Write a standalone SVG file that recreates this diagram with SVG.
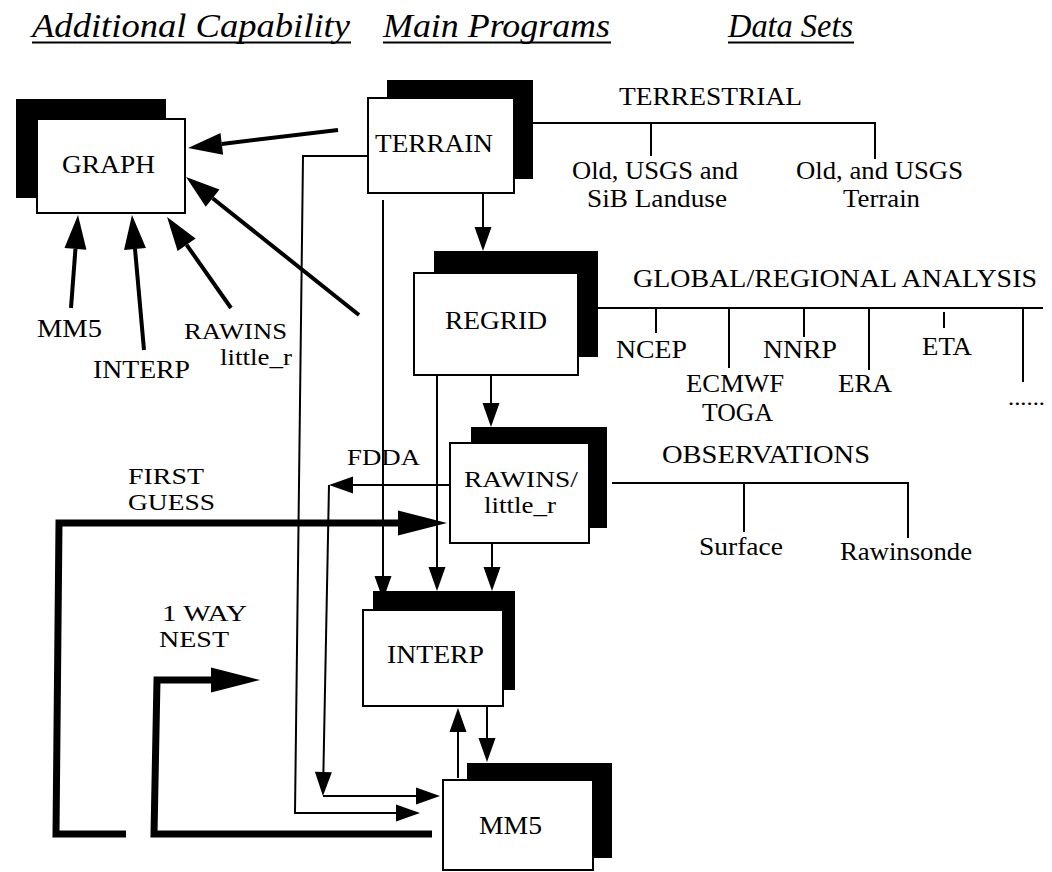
<svg xmlns="http://www.w3.org/2000/svg" width="1052" height="872" viewBox="0 0 1052 872" font-family="'Liberation Serif', 'DejaVu Serif', 'Times New Roman', serif">
<style>
  text { font-family: "Liberation Serif", "DejaVu Serif", "Times New Roman", serif; font-size: 26px; fill: #000; }
  .hdr { font-style: italic; font-size: 34px; }
  .sm { font-size: 23px; }
  .c { text-anchor: middle; }
  .shadow { fill: #000; }
  .box { fill: #fff; stroke: #000; stroke-width: 2; }
  .thin { fill: none; stroke: #000; stroke-width: 2; }
  .med { fill: none; stroke: #000; stroke-width: 4; }
  .thick { fill: none; stroke: #000; stroke-width: 7; stroke-linejoin: miter; }
</style>
<defs>
  <marker id="aThin" markerUnits="userSpaceOnUse" markerWidth="26" markerHeight="20" refX="0" refY="8.5" orient="auto" overflow="visible">
    <path d="M0,0 L24,8.5 L0,17 z" fill="#000"/>
  </marker>
  <marker id="aMed" markerUnits="userSpaceOnUse" markerWidth="36" markerHeight="24" refX="0" refY="11" orient="auto" overflow="visible">
    <path d="M0,0 L34,11 L0,22 z" fill="#000"/>
  </marker>
  <marker id="aThick" markerUnits="userSpaceOnUse" markerWidth="50" markerHeight="26" refX="0" refY="12.5" orient="auto" overflow="visible">
    <path d="M0,0 L49,12.5 L0,25 z" fill="#000"/>
  </marker>
</defs>
<rect width="1052" height="872" fill="#fff"/>

<g id="headers">
  <text class="hdr" x="32" y="37" textLength="318" lengthAdjust="spacingAndGlyphs">Additional Capability</text>
  <line x1="32" y1="42.5" x2="351" y2="42.5" stroke="#000" stroke-width="2"/>
  <text class="hdr" x="383" y="37" textLength="227" lengthAdjust="spacingAndGlyphs">Main Programs</text>
  <line x1="383" y1="42.5" x2="611" y2="42.5" stroke="#000" stroke-width="2"/>
  <text class="hdr" x="728" y="37" textLength="125" lengthAdjust="spacingAndGlyphs">Data Sets</text>
  <line x1="728" y1="42.5" x2="854" y2="42.5" stroke="#000" stroke-width="2"/>
</g>

<g id="connectors">
  <line class="med" x1="338" y1="130" x2="221.8" y2="143.95" marker-end="url(#aMed)"/>
  <line class="med" x1="359" y1="315" x2="212.6" y2="198.2" marker-end="url(#aMed)"/>
  <line class="med" x1="71" y1="308" x2="75.45" y2="248.9" marker-end="url(#aMed)"/>
  <line class="med" x1="144" y1="350" x2="135" y2="248.9" marker-end="url(#aMed)"/>
  <line class="med" x1="231" y1="308" x2="186.6" y2="244.8" marker-end="url(#aMed)"/>

  <line class="thin" x1="483" y1="193" x2="483" y2="227" marker-end="url(#aThin)"/>
  <line class="thin" x1="491" y1="375" x2="491" y2="403" marker-end="url(#aThin)"/>
  <line class="thin" x1="492" y1="543" x2="492" y2="567" marker-end="url(#aThin)"/>
  <line class="thin" x1="437" y1="375" x2="437" y2="567" marker-end="url(#aThin)"/>
  <line class="thin" x1="383" y1="200" x2="383" y2="576" marker-end="url(#aThin)"/>
  <line class="thin" x1="487" y1="706" x2="487" y2="738" marker-end="url(#aThin)"/>
  <line class="thin" x1="458" y1="778" x2="458" y2="732" marker-end="url(#aThin)"/>

  <line class="thin" x1="450" y1="485" x2="353" y2="485" marker-end="url(#aThin)"/>
  <line class="thin" x1="329" y1="485" x2="323.4" y2="772" marker-end="url(#aThin)"/>
  <line class="thin" x1="323" y1="796" x2="416" y2="796" marker-end="url(#aThin)"/>

  <polyline class="thin" points="368,156 303,156 295,813 396,813" marker-end="url(#aThin)"/>

  <polyline class="thick" points="126,834 56,834 59,523 398,523" marker-end="url(#aThick)"/>
  <polyline class="thick" points="432,834 154,834 157,680 211,680" marker-end="url(#aThick)"/>

  <path class="thin" d="M533,123 H875 V159 M651,123 V156"/>
  <path class="thin" d="M598,308 H1043 M656,308 V333 M729,308 V368 M804,308 V337 M869,308 V370 M944,312 V328 M1023,308 V382"/>
  <path class="thin" d="M612,483 H908 V538 M744,483 V532"/>
</g>

<g id="node-graph">
  <rect class="shadow" x="16" y="99" width="150" height="99"/>
  <rect class="box" x="37" y="119" width="148" height="94"/>
  <text class="c" x="108.5" y="173" textLength="93" lengthAdjust="spacingAndGlyphs">GRAPH</text>
</g>
<g id="node-terrain">
  <rect class="shadow" x="387" y="80" width="146" height="99"/>
  <rect class="box" x="368" y="98" width="146" height="95"/>
  <text class="c" x="434" y="152" textLength="118" lengthAdjust="spacingAndGlyphs">TERRAIN</text>
</g>
<g id="node-regrid">
  <rect class="shadow" x="434" y="251" width="164" height="106"/>
  <rect class="box" x="414" y="273" width="164" height="102"/>
  <text class="c" x="496" y="329" textLength="102" lengthAdjust="spacingAndGlyphs">REGRID</text>
</g>
<g id="node-rawins">
  <rect class="shadow" x="471" y="427" width="136" height="101"/>
  <rect class="box" x="450" y="443" width="139" height="100"/>
  <text class="c sm" x="521" y="487" textLength="114" lengthAdjust="spacingAndGlyphs">RAWINS/</text>
  <text class="c sm" x="520" y="513" textLength="72" lengthAdjust="spacingAndGlyphs">little_r</text>
</g>
<g id="node-interp">
  <rect class="shadow" x="373" y="591" width="142" height="99"/>
  <rect class="box" x="363" y="610" width="140" height="96"/>
  <text class="c" x="435.5" y="663" textLength="97" lengthAdjust="spacingAndGlyphs">INTERP</text>
</g>
<g id="node-mm5">
  <rect class="shadow" x="467" y="763" width="145" height="95"/>
  <rect class="box" x="443" y="780" width="150" height="90"/>
  <text class="c" x="510.5" y="834" textLength="63" lengthAdjust="spacingAndGlyphs">MM5</text>
</g>

<g id="labels-graph-inputs">
  <text class="c" x="69.5" y="337" textLength="65" lengthAdjust="spacingAndGlyphs">MM5</text>
  <text class="c" x="141.5" y="378" textLength="97" lengthAdjust="spacingAndGlyphs">INTERP</text>
  <text class="c sm" x="235.5" y="339" textLength="103" lengthAdjust="spacingAndGlyphs">RAWINS</text>
  <text class="c sm" x="256" y="365" textLength="72" lengthAdjust="spacingAndGlyphs">little_r</text>
</g>

<g id="labels-flow">
  <text class="sm" x="347" y="465" textLength="73" lengthAdjust="spacingAndGlyphs">FDDA</text>
  <text class="sm" x="128" y="484" textLength="76" lengthAdjust="spacingAndGlyphs">FIRST</text>
  <text class="sm" x="128" y="510" textLength="87" lengthAdjust="spacingAndGlyphs">GUESS</text>
  <text class="sm" x="162" y="621" textLength="85" lengthAdjust="spacingAndGlyphs">1 WAY</text>
  <text class="sm" x="159" y="647" textLength="70" lengthAdjust="spacingAndGlyphs">NEST</text>
</g>

<g id="datasets-terrestrial">
  <text class="c" x="710.5" y="105" textLength="183" lengthAdjust="spacingAndGlyphs">TERRESTRIAL</text>
  <text class="c" x="655" y="179" textLength="166" lengthAdjust="spacingAndGlyphs">Old, USGS and</text>
  <text class="c" x="657" y="207" textLength="140" lengthAdjust="spacingAndGlyphs">SiB Landuse</text>
  <text class="c" x="879.5" y="179" textLength="167" lengthAdjust="spacingAndGlyphs">Old, and USGS</text>
  <text class="c" x="881.5" y="207" textLength="77" lengthAdjust="spacingAndGlyphs">Terrain</text>
</g>
<g id="datasets-global">
  <text class="c" x="835" y="287" textLength="404" lengthAdjust="spacingAndGlyphs">GLOBAL/REGIONAL ANALYSIS</text>
  <text class="c" x="651.5" y="358" textLength="71" lengthAdjust="spacingAndGlyphs">NCEP</text>
  <text class="c" x="800" y="358" textLength="74" lengthAdjust="spacingAndGlyphs">NNRP</text>
  <text class="c" x="947" y="355" textLength="50" lengthAdjust="spacingAndGlyphs">ETA</text>
  <text class="c" x="735" y="392" textLength="98" lengthAdjust="spacingAndGlyphs">ECMWF</text>
  <text class="c" x="865" y="392" textLength="54" lengthAdjust="spacingAndGlyphs">ERA</text>
  <text class="c" x="737.5" y="421" textLength="71" lengthAdjust="spacingAndGlyphs">TOGA</text>
  <text x="1008" y="405" textLength="37" lengthAdjust="spacingAndGlyphs" style="font-size:20px">......</text>
</g>
<g id="datasets-observations">
  <text class="c" x="766" y="463" textLength="208" lengthAdjust="spacingAndGlyphs">OBSERVATIONS</text>
  <text class="c" x="741" y="555" textLength="84" lengthAdjust="spacingAndGlyphs">Surface</text>
  <text class="c" x="906" y="560" textLength="132" lengthAdjust="spacingAndGlyphs">Rawinsonde</text>
</g>
</svg>
